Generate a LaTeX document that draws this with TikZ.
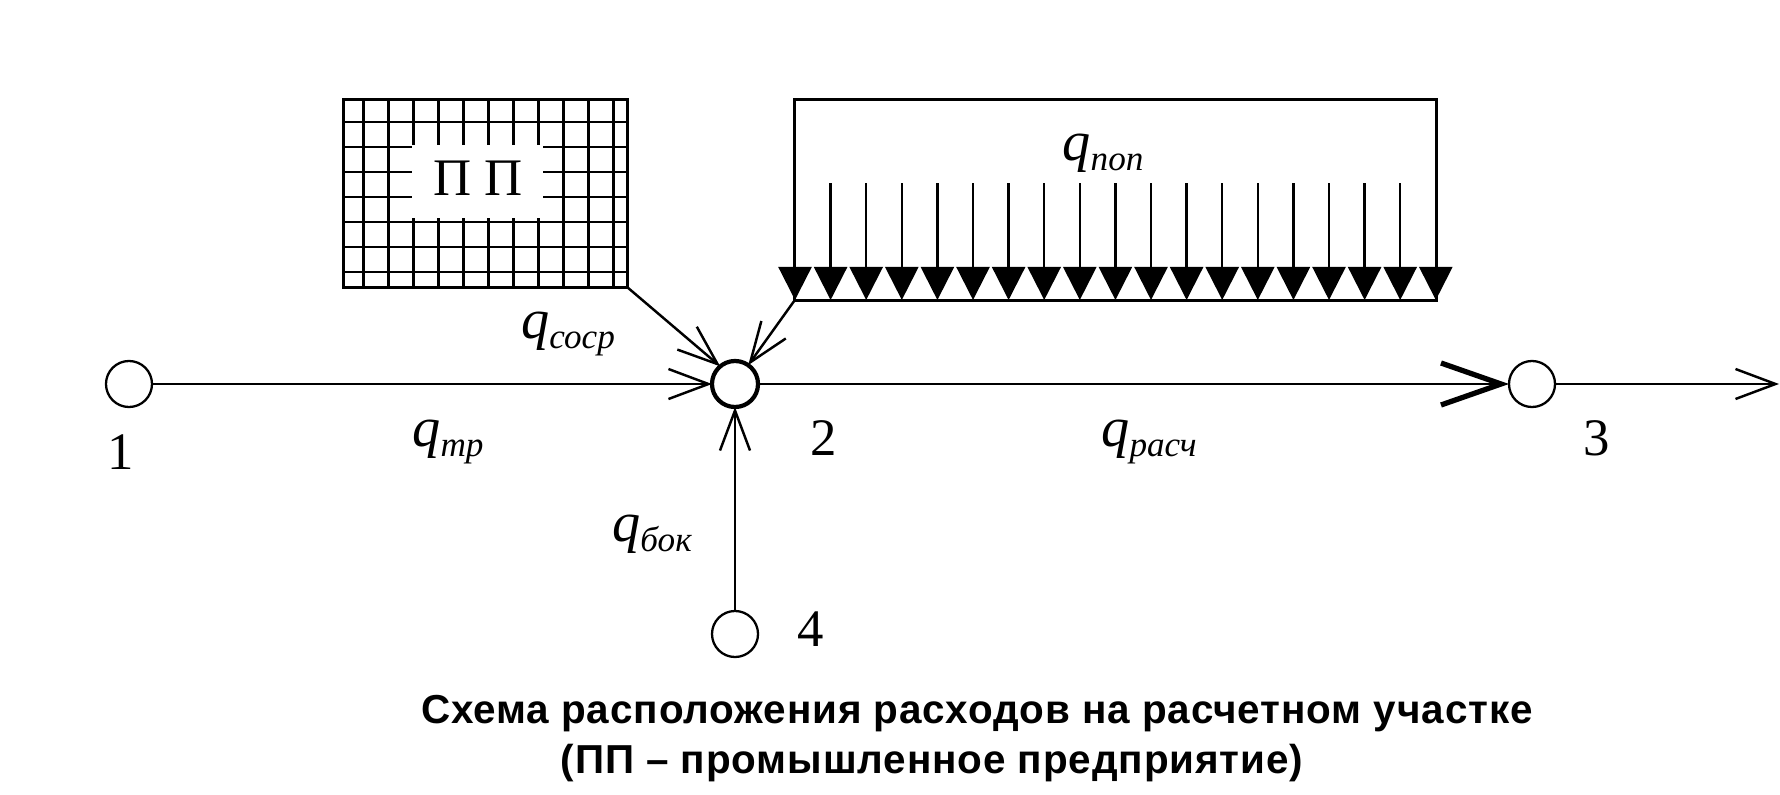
\documentclass[tikz,border=0pt]{standalone}
\usepackage{fontspec}
\setmainfont{Liberation Serif}
\newfontfamily\capfont[LetterSpace=2.2]{Liberation Sans}
\usetikzlibrary{arrows.meta}
\newcommand{\qsub}[1]{{\fontsize{16}{16}\selectfont\itshape q}\raisebox{-3pt}{\fontsize{10}{10}\selectfont\itshape #1}}

\begin{document}
\begin{tikzpicture}[x=0.01cm,y=-0.01cm,
    every node/.style={inner sep=0pt,outer sep=0pt},
    nodecirc/.style={draw,circle,line width=0.65pt,minimum size=0.46cm},
    numlabel/.style={font=\fontsize{15}{15}\selectfont},
    pipe/.style={line width=0.7pt},
    thinbarb/.style={pipe,-{Straight Barb[length=0.4cm,width=0.3cm,line width=0.7pt]}},
    gridline/.style={line width=0.85pt},
    loadarrow/.style={line width=0.65pt,-{Triangle[length=0.33cm,width=0.33cm]}},
    boxline/.style={draw,line width=0.85pt}]
  \useasboundingbox (0,0) rectangle (1780,794);
  % plant with its street grid
  \node[boxline,minimum width=2.83cm,minimum height=1.87cm] (plant) at (485.5,193.5) {};
  \foreach \x in {363,388,413,438,463,488,513,538,563,588,613}
    \draw[gridline] (\x,100) -- (\x,287);
  \foreach \y in {122,147,172,197,222,247,272}
    \draw[gridline] (344,\y) -- (627,\y);
  \fill[white] (412,145.5) rectangle (543,217.5);
  \node[font=\fontsize{15}{15}\selectfont] (planttext) at (478,178) {П П};
  % distributed load
  \node[boxline,minimum width=6.41cm,minimum height=2cm] (load) at (1115.5,200) {};
  \foreach \i in {0,...,18}
    \draw[loadarrow] ({795+35.6*\i},183) -- ({795+35.6*\i},300);
  % nodes of the section
  \node[nodecirc] (n1) at (129,384) {};
  \node[nodecirc,line width=1.2pt] (n2) at (735,384) {};
  \node[nodecirc] (n3) at (1532,384) {};
  \node[nodecirc] (n4) at (735,634) {};
  \coordinate (out) at (1779,384);
  \node[numlabel] (lab1) at (121,452) {1};
  \node[numlabel] (lab2) at (824,438) {2};
  \node[numlabel] (lab3) at (1597,438) {3};
  \node[numlabel] (lab4) at (811,629) {4};
  \draw[thinbarb] (n1) -- (n2);
  \draw[pipe,-{Straight Barb[length=0.6cm,width=0.42cm,line width=1.5pt]}] (n2) -- (n3);
  \draw[thinbarb] (n3) -- (out);
  \draw[thinbarb] (n4) -- (n2);
  \draw[thinbarb] (plant.south east) -- (n2.130);
  \draw[thinbarb] (load.south west) -- (n2.55);
  % flows
  \node (qsosr) at (568,334) {\qsub{соср}};
  \node (qtr) at (448,442) {\qsub{тр}};
  \node (qpop) at (1103,153) {\qsub{поп}};
  \node (qras) at (1149,442) {\qsub{расч}};
  \node (qbok) at (652,534) {\qsub{бок}};
  % caption
  \node[font=\capfont\bfseries\fontsize{11.5}{11.5}\selectfont] (cap1) at (977,714) {Схема расположения расходов на расчетном участке};
  \node[font=\capfont\bfseries\fontsize{11.5}{11.5}\selectfont] (cap2) at (932,763) {(ПП – промышленное предприятие)};
\end{tikzpicture}
\end{document}
